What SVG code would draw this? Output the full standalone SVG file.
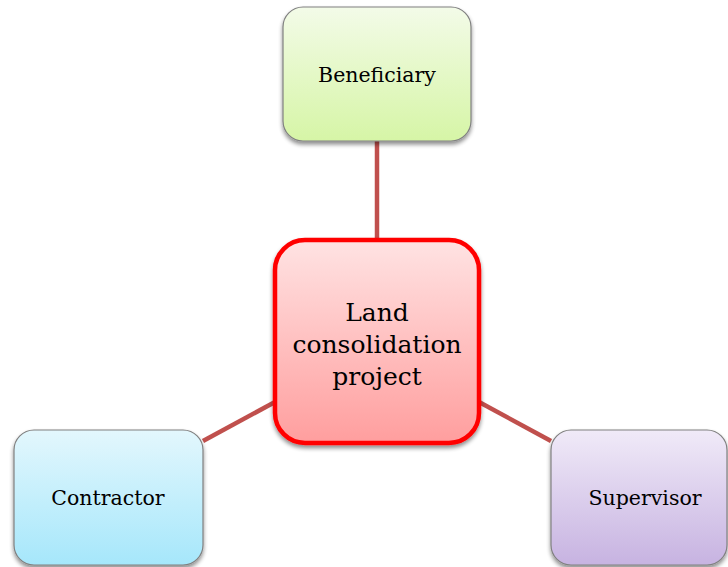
<svg xmlns="http://www.w3.org/2000/svg" width="728" height="567" viewBox="0 0 728 567">
<defs>
<linearGradient id="gGreen" x1="0" y1="0" x2="0" y2="1"><stop offset="0" stop-color="#f3fbe8"/><stop offset="1" stop-color="#d6f5a6"/></linearGradient>
<linearGradient id="gRed" x1="0" y1="0" x2="0" y2="1"><stop offset="0" stop-color="#ffe3e3"/><stop offset="1" stop-color="#ff9e9e"/></linearGradient>
<linearGradient id="gBlue" x1="0" y1="0" x2="0" y2="1"><stop offset="0" stop-color="#e3f7fd"/><stop offset="1" stop-color="#a6e7fb"/></linearGradient>
<linearGradient id="gPurple" x1="0" y1="0" x2="0" y2="1"><stop offset="0" stop-color="#f0eaf8"/><stop offset="1" stop-color="#c7b3e1"/></linearGradient>
<filter id="shadow" x="-10%" y="-10%" width="120%" height="125%"><feGaussianBlur in="SourceAlpha" stdDeviation="2"/><feOffset dx="0" dy="3"/><feComponentTransfer><feFuncA type="linear" slope="0.45"/></feComponentTransfer><feMerge><feMergeNode/><feMergeNode in="SourceGraphic"/></feMerge></filter>
</defs>
<style>
.box{stroke:#808080;stroke-width:1.2;filter:url(#shadow)}
.conn{stroke:#c0504d;stroke-width:4.5;fill:none}
.lbl{font-family:"DejaVu Serif","Liberation Serif",serif;font-size:20.5px;fill:#000;text-anchor:middle}
.big{font-family:"DejaVu Serif","Liberation Serif",serif;font-size:25px;fill:#000;text-anchor:middle}
</style>
<rect width="728" height="567" fill="#ffffff"/>
<g id="connectors">
<line class="conn" x1="377" y1="141" x2="377" y2="240"/>
<line class="conn" x1="203" y1="441" x2="275" y2="402"/>
<line class="conn" x1="479" y1="402" x2="551" y2="441"/>
</g>
<g id="beneficiary">
<rect class="box" x="283" y="7" width="188" height="134" rx="20" fill="url(#gGreen)"/>
<text class="lbl" x="377" y="82">Beneficiary</text>
</g>
<g id="contractor">
<rect class="box" x="14" y="430" width="189" height="135" rx="20" fill="url(#gBlue)"/>
<text class="lbl" x="108" y="505">Contractor</text>
</g>
<g id="supervisor">
<rect class="box" x="551" y="430" width="176" height="135" rx="20" fill="url(#gPurple)"/>
<text class="lbl" x="645" y="505">Supervisor</text>
</g>
<g id="project">
<rect x="275" y="240" width="204" height="203" rx="30" fill="url(#gRed)" stroke="#ff0000" stroke-width="4.5" filter="url(#shadow)"/>
<text class="big" x="377" y="321">Land</text>
<text class="big" x="377" y="353">consolidation</text>
<text class="big" x="377" y="385">project</text>
</g>
</svg>
